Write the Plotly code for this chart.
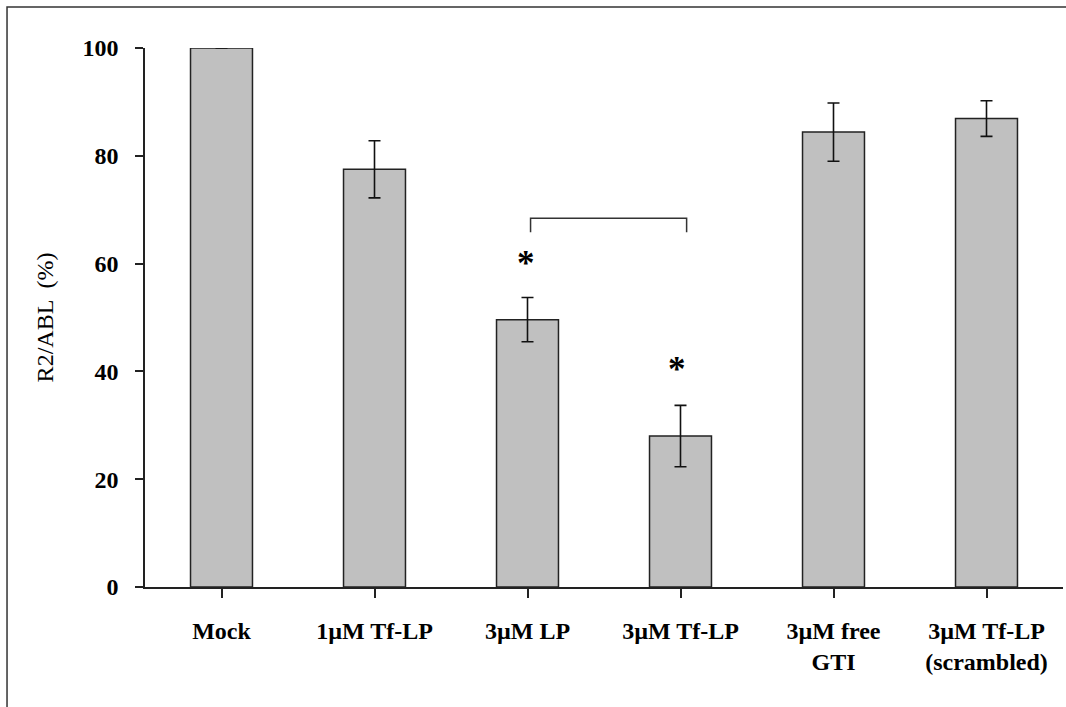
import plotly.graph_objects as go

categories = ["Mock", "1µM Tf-LP", "3µM LP", "3µM Tf-LP", "3µM free<br>GTI", "3µM Tf-LP<br>(scrambled)"]
values = [100, 77.5, 49.6, 28.0, 84.4, 86.9]
errors = [0, 5.3, 4.1, 5.7, 5.4, 3.3]

y_ticks = [0, 20, 40, 60, 80, 100]

# significance marks
sig_x = [1.99, 2.98]
sig_y = [60.1, 40.3]
bracket_x = [2.02, 3.04]
bracket_y = [65.8, 68.4]

FONT = "Liberation Serif"

fig = go.Figure()
fig.add_trace(go.Bar(
    x=list(range(len(categories))),
    y=values,
    marker=dict(color="#C0C0C0", line=dict(color="#222222", width=1.5)),
    error_y=dict(type="data", array=errors, visible=True, color="#111111",
                 thickness=1.6, width=6),
    width=0.405,
))

for sx, sy in zip(sig_x, sig_y):
    fig.add_annotation(x=sx, y=sy, xref="x", yref="y", text="<b>*</b>",
                       showarrow=False, font=dict(family=FONT, size=35, color="black"))

fig.add_shape(type="path",
              path=f"M {bracket_x[0]},{bracket_y[0]} L {bracket_x[0]},{bracket_y[1]} "
                   f"L {bracket_x[1]},{bracket_y[1]} L {bracket_x[1]},{bracket_y[0]}",
              xref="x", yref="y", line=dict(color="#333333", width=1.5))

# outer border of the chart (left and top edges; the rest lies outside the picture)
fig.add_shape(type="path", xref="paper", yref="paper",
              path="M -0.1503,-0.3 L -0.1503,1.076 L 1.2,1.076",
              line=dict(color="#333333", width=1.5), layer="above")

fig.update_layout(
    width=1066, height=707,
    margin=dict(l=145, r=3, t=48, b=120),
    paper_bgcolor="white", plot_bgcolor="white",
    showlegend=False,
    font=dict(family=FONT, color="black"),
    xaxis=dict(
        tickmode="array",
        tickvals=list(range(len(categories))),
        ticktext=[f"<b>{c}</b>" for c in categories],
        range=[-0.5, len(categories) - 0.5],
        showline=True, linecolor="#222222", linewidth=1.5,
        ticks="outside", ticklen=9, tickwidth=1.5, tickcolor="#222222",
        tickson="boundaries",
        tickfont=dict(family=FONT, size=24, color="black"),
        showgrid=False, zeroline=False,
        ticklabelstandoff=12,
    ),
    yaxis=dict(
        range=[0, 100],
        tickvals=y_ticks,
        ticktext=[f"<b>{t}</b>" for t in y_ticks],
        showline=True, linecolor="#222222", linewidth=1.5,
        ticks="outside", ticklen=8, tickwidth=1.5, tickcolor="#222222",
        tickfont=dict(family=FONT, size=24, color="black"),
        showgrid=False, zeroline=False,
        ticklabelstandoff=12,
        title=dict(text="R2/ABL  (%)", font=dict(family=FONT, size=24, color="black"),
                   standoff=22),
    ),
)

fig.write_html("out.html",
               config={"displayModeBar": False},
               post_script="document.body.style.margin='0';document.body.style.overflow='hidden';")
